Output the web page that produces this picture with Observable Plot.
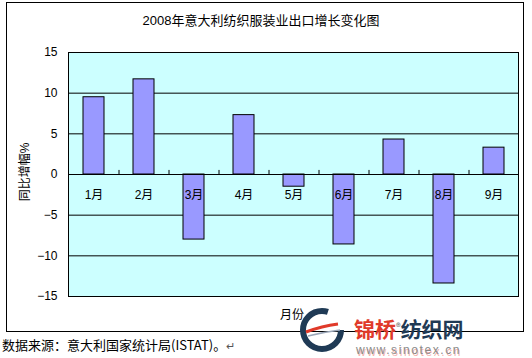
<!DOCTYPE html>
<html>
<head>
<meta charset="utf-8">
<script src="https://cdn.jsdelivr.net/npm/d3@7"></script>
<script src="https://cdn.jsdelivr.net/npm/@observablehq/plot@0.6"></script>
<style>
  html, body { margin: 0; padding: 0; background: #fff; }
  #wrap { position: relative; width: 532px; height: 358px; overflow: hidden;
          font-family: "Liberation Sans", "Noto Sans CJK SC", sans-serif; color: #000; }
  #chart { position: absolute; left: 0; top: 0; }
  .abs { position: absolute; white-space: nowrap; }
  #outer { position: absolute; left: 6px; top: 2px; width: 518px; height: 330px;
           border: 1px solid #000; box-sizing: border-box; }
</style>
</head>
<body>
<div id="wrap">
  <div id="outer"></div>
  <div id="chart"></div>
  <div class="abs" id="title" style="left:0;width:522px;top:13px;text-align:center;font-size:13px;line-height:15px;">2008年意大利纺织服装业出口增长变化图</div>
  <div class="abs" id="ylabel" style="left:25px;top:172px;font-size:12px;line-height:14px;transform:translate(-50%,-50%) rotate(-90deg);">同比增幅%</div>
  <div class="abs" id="xlabel" style="left:292px;top:315px;font-size:12px;line-height:14px;transform:translate(-50%,-50%);">月份</div>
  <div class="abs" id="source" style="left:2px;top:337px;font-size:13px;line-height:16px;font-family:'Noto Sans CJK SC',sans-serif;">数据来源：意大利国家统计局(ISTAT)。<span style="color:#555;font-size:11px;">↵</span></div>
  <svg class="abs" style="left:298px;top:306px;" width="50" height="50" viewBox="0 0 50 50">
    <circle cx="24" cy="24" r="19" fill="none" stroke="#1f3a55" stroke-width="6" stroke-dasharray="95 25"/>
    <path d="M8 26 Q24 20 40 18" fill="none" stroke="#e03a2a" stroke-width="3"/>
    <path d="M10 30 Q26 26 42 24" fill="none" stroke="#9aa6b8" stroke-width="1.5"/>
  </svg>
  <div class="abs" style="left:354px;top:316px;font-size:21px;line-height:24px;font-weight:bold;font-family:'Noto Sans CJK SC',sans-serif;">
    <span style="color:#e03a2a;">锦桥</span><span style="color:#777;font-size:9px;vertical-align:top;">®</span><span style="color:#1f3a55;">纺织网</span>
  </div>
  <div class="abs" style="left:356px;top:343px;font-size:12px;line-height:14px;letter-spacing:1.6px;color:#8a8a8a;text-shadow:1px 2px 0 rgba(230,80,70,0.45);">www.sinotex.cn</div>
</div>
<script>
const months = ["1月", "2月", "3月", "4月", "5月", "6月", "7月", "8月", "9月"];
const growth = [9.5, 11.7, -8.0, 7.3, -1.5, -8.6, 4.3, -13.4, 3.3];
const yTicks = [-15, -10, -5, 0, 5, 10, 15];
const gridValues = [-10, -5, 5, 10];

const data = months.map((m, i) => ({month: m, value: growth[i]}));

const chart = Plot.plot({
  width: 532,
  height: 358,
  marginLeft: 68,
  marginRight: 14,
  marginTop: 52,
  marginBottom: 62,
  style: {fontFamily: "'Liberation Sans', 'Noto Sans CJK SC', sans-serif", fontSize: "12px", background: "transparent", color: "black"},
  x: {domain: months, paddingInner: 0.58, paddingOuter: 0.29, axis: null},
  y: {domain: [-15, 15], axis: null},
  marks: [
    Plot.frame({fill: "#CCFFFF"}),
    Plot.ruleY(gridValues, {stroke: "black", strokeWidth: 1}),
    Plot.barY(data, {x: "month", y: "value", fill: "#9999FF", stroke: "black", strokeWidth: 1}),
    Plot.ruleY([0], {stroke: "black"}),
    Plot.ruleX(months.slice(1), {x: d => d, y1: 0, y2: 0.5, dx: -25, stroke: "black"}),
    Plot.text(data, {x: "month", y: 0, text: "month", dy: 21, fontSize: 12, fill: "black"}),
    Plot.frame({stroke: "black"}),
    Plot.axisY(yTicks, {tickSize: 0, tickPadding: 11, label: null, fontSize: 12, fill: "black"})
  ]
});
document.getElementById("chart").appendChild(chart);
</script>
</body>
</html>
